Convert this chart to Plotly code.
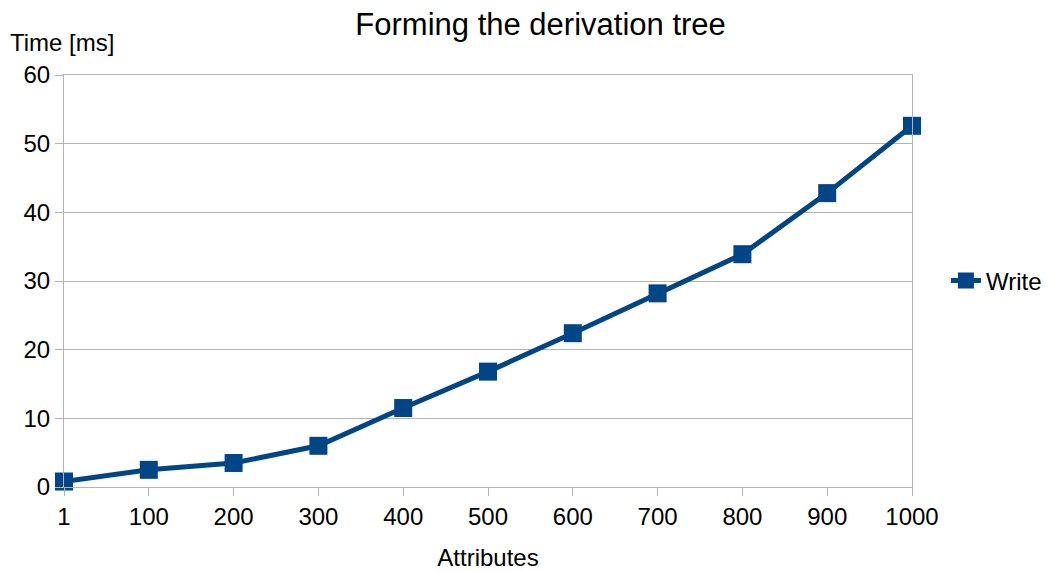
import plotly.graph_objects as go

categories = ["1", "100", "200", "300", "400", "500", "600", "700", "800", "900", "1000"]
write_ms = [0.8, 2.5, 3.5, 6.0, 11.5, 16.8, 22.4, 28.2, 33.9, 42.8, 52.6]
y_ticks = [0, 10, 20, 30, 40, 50, 60]

color = "#004586"
font = "Liberation Sans, Arial, sans-serif"

fig = go.Figure()
fig.add_trace(go.Scatter(
    x=categories, y=write_ms, mode="lines+markers", name="Write",
    line=dict(color=color, width=5),
    marker=dict(symbol="square", size=18, color=color),
    cliponaxis=False,
))

fig.update_layout(
    width=1060, height=571,
    margin=dict(l=64, r=148, t=75, b=84),
    paper_bgcolor="white", plot_bgcolor="white",
    font=dict(family=font, size=24, color="black"),
    title=dict(text="Forming the derivation tree", x=0.51, xanchor="center",
               y=0.958, yanchor="middle", font=dict(size=31)),
    showlegend=True,
    legend=dict(x=1.04, y=0.5, xanchor="left", yanchor="middle",
                font=dict(size=24), bgcolor="rgba(0,0,0,0)"),
    xaxis=dict(type="category", range=[0, 10], showgrid=False, automargin=False,
               showline=True, linecolor="#b3b3b3", linewidth=1, mirror=True,
               ticks="outside", ticklen=8, tickcolor="#b3b3b3",
               title=dict(text="Attributes", font=dict(size=24), standoff=22),
               zeroline=False),
    yaxis=dict(range=[0, 60], tickvals=y_ticks, showgrid=True, gridcolor="#b3b3b3",
               automargin=False,
               showline=True, linecolor="#b3b3b3", linewidth=1, mirror=True,
               ticks="outside", ticklen=8, tickcolor="#b3b3b3", zeroline=False),
    annotations=[dict(text="Time [ms]", xref="paper", yref="paper", x=-0.066, y=1.08,
                      xanchor="left", yanchor="middle", showarrow=False,
                      font=dict(size=24))],
)
fig.write_html("out.html")
